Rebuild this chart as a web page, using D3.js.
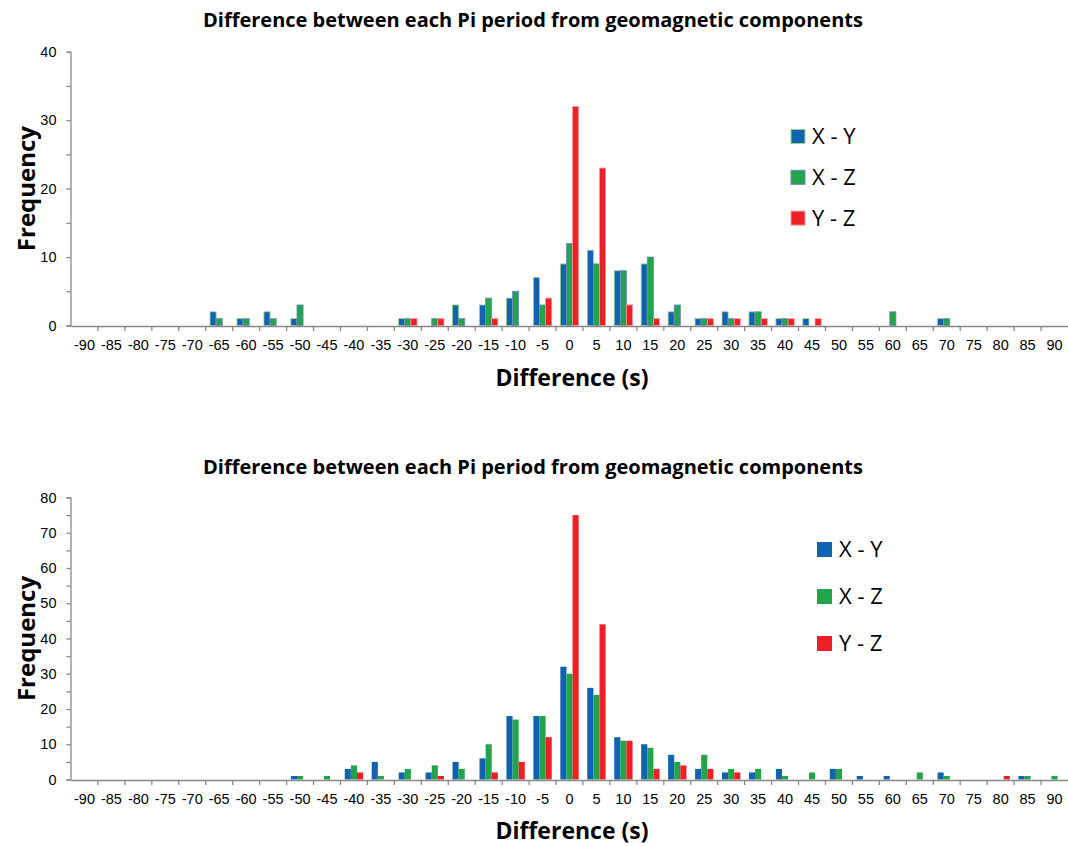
<!DOCTYPE html>
<html>
<head>
<meta charset="utf-8">
<script src="https://cdn.jsdelivr.net/npm/d3@7"></script>
<style>
  body { margin: 0; background: #fff; }
  svg { display: block; font-family: 'Open Sans', sans-serif; }
</style>
</head>
<body>
<svg id="chart" width="1068" height="846"></svg>
<script>
let categories = [-90, -85, -80, -75, -70, -65, -60, -55, -50, -45, -40, -35, -30, -25, -20, -15, -10, -5,
  0, 5, 10, 15, 20, 25, 30, 35, 40, 45, 50, 55, 60, 65, 70, 75, 80, 85, 90]
let seriesNames = ['X - Y', 'X - Z', 'Y - Z']
let colors = ['#1162b0', '#22a54a', '#ee2026']
let topOutlines = ['#9ad38c', '#6f84c8', '#f59a9a']

let titleText = 'Difference between each Pi period from geomagnetic components'
let xTitle = 'Difference (s)'
let yTitle = 'Frequency'

// upper histogram
let topXY = [0, 0, 0, 0, 0, 2, 1, 2, 1, 0, 0, 0, 1, 0, 3, 3, 4, 7, 9, 11, 8, 9, 2, 1, 2, 2, 1, 1, 0, 0, 0, 0, 1, 0, 0, 0, 0]
let topXZ = [0, 0, 0, 0, 0, 1, 1, 1, 3, 0, 0, 0, 1, 1, 1, 4, 5, 3, 12, 9, 8, 10, 3, 1, 1, 2, 1, 0, 0, 0, 2, 0, 1, 0, 0, 0, 0]
let topYZ = [0, 0, 0, 0, 0, 0, 0, 0, 0, 0, 0, 0, 1, 1, 0, 1, 0, 4, 32, 23, 3, 1, 0, 1, 1, 1, 1, 1, 0, 0, 0, 0, 0, 0, 0, 0, 0]
let topYTicks = [0, 10, 20, 30, 40]

// lower histogram
let bottomXY = [0, 0, 0, 0, 0, 0, 0, 0, 1, 0, 3, 5, 2, 2, 5, 6, 18, 18, 32, 26, 12, 10, 7, 3, 2, 2, 3, 0, 3, 1, 1, 0, 2, 0, 0, 1, 0]
let bottomXZ = [0, 0, 0, 0, 0, 0, 0, 0, 1, 1, 4, 1, 3, 4, 3, 10, 17, 18, 30, 24, 11, 9, 5, 7, 3, 3, 1, 2, 3, 0, 0, 2, 1, 0, 0, 1, 1]
let bottomYZ = [0, 0, 0, 0, 0, 0, 0, 0, 0, 0, 2, 0, 0, 1, 0, 2, 5, 12, 75, 44, 11, 3, 4, 3, 2, 0, 0, 0, 0, 0, 0, 0, 0, 0, 1, 0, 0]
let bottomYTicks = [0, 10, 20, 30, 40, 50, 60, 70, 80]

let axisColor = '#888'

let drawPanel = (svg, p) => {
  let g = svg.append('g')

  let x = d3.scaleBand()
    .domain(categories)
    .range([71, 1068])
    .padding(0)

  let inner = d3.scaleBand()
    .domain(seriesNames)
    .range([x.bandwidth() * 0.16, x.bandwidth() * 0.84])

  let yMax = p.yTicks[p.yTicks.length - 1]
  let y = d3.scaleLinear()
    .domain([0, yMax])
    .range([p.y0, p.y1])

  // bars
  let series = p.series.map((values, s) => values.map((v, i) => ({ cat: categories[i], v: v, s: s })))
  series.forEach((data, s) => {
    g.selectAll('rect.s' + s)
      .data(data.filter(d => d.v > 0))
      .enter().append('rect')
      .attr('class', 's' + s)
      .attr('x', d => x(d.cat) + inner(seriesNames[s]))
      .attr('width', inner.bandwidth())
      .attr('y', d => y(d.v))
      .attr('height', d => y(0) - y(d.v))
      .attr('fill', colors[s])
      .attr('stroke', p.outlines ? p.outlines[s] : 'none')
      .attr('stroke-width', 0.8)
  })

  // y axis, major and minor ticks
  let minor = d3.range(0, yMax + 1, 5)
  let yAxis = g.append('g')
    .attr('transform', 'translate(70.5,0)')
    .call(d3.axisLeft(y).tickValues(minor).tickSize(4).tickPadding(10)
      .tickFormat(d => p.yTicks.includes(d) ? d : ''))
  yAxis.select('.domain').attr('stroke', axisColor).attr('stroke-width', 1.3)
  yAxis.selectAll('.tick line').attr('stroke', axisColor).attr('stroke-width', 1.3)
  yAxis.selectAll('.tick text')
    .attr('font-size', 14.5)
    .attr('fill', '#000')

  // x axis: labels under each bin, ticks between bins
  let xAxis = g.append('g')
    .attr('transform', 'translate(0,' + (y(0) + 0.5) + ')')
    .call(d3.axisBottom(x).tickSize(0).tickPadding(14))
  xAxis.select('.domain').attr('stroke', axisColor).attr('stroke-width', 1.6)
  xAxis.selectAll('.tick text')
    .attr('font-size', 14.5)
    .attr('fill', '#000')
  xAxis.selectAll('line.sep')
    .data(categories.slice(1))
    .enter().append('line')
    .attr('class', 'sep')
    .attr('x1', d => x(d))
    .attr('x2', d => x(d))
    .attr('y1', 0)
    .attr('y2', 5)
    .attr('stroke', axisColor)
    .attr('stroke-width', 1.3)

  // titles
  g.append('text')
    .attr('x', 533)
    .attr('y', p.titleY)
    .attr('text-anchor', 'middle')
    .attr('font-size', 20)
    .attr('font-weight', 'bold')
    .text(titleText)
  g.append('text')
    .attr('x', 572)
    .attr('y', p.xTitleY)
    .attr('text-anchor', 'middle')
    .attr('font-size', 23)
    .attr('font-weight', 'bold')
    .text(xTitle)
  g.append('text')
    .attr('text-anchor', 'middle')
    .attr('transform', 'translate(35,' + ((p.y0 + p.y1) / 2) + ')rotate(-90)')
    .attr('font-size', 24)
    .attr('font-weight', 'bold')
    .text(yTitle)

  // legend
  let legend = g.selectAll('g.legend')
    .data(seriesNames)
    .enter().append('g')
    .attr('class', 'legend')
    .attr('transform', (d, i) => 'translate(' + p.legendX + ',' + (p.legendY + i * p.legendGap) + ')')
  legend.append('rect')
    .attr('x', 0)
    .attr('y', -p.box / 2)
    .attr('width', p.box)
    .attr('height', p.box)
    .attr('fill', (d, i) => colors[i])
    .attr('stroke', (d, i) => p.outlines ? p.outlines[i] : 'none')
  legend.append('text')
    .attr('x', p.box + 7)
    .attr('y', 0)
    .attr('dy', '0.35em')
    .attr('font-size', 22)
    .text(d => d)
}

let svg = d3.select('#chart')

drawPanel(svg, {
  series: [topXY, topXZ, topYZ],
  outlines: topOutlines,
  yTicks: topYTicks,
  y0: 325.5, y1: 51.7,
  titleY: 27, xTitleY: 386,
  legendX: 791, legendY: 136.5, legendGap: 40.8, box: 14
})

drawPanel(svg, {
  series: [bottomXY, bottomXZ, bottomYZ],
  yTicks: bottomYTicks,
  y0: 779.5, y1: 497.5,
  titleY: 474, xTitleY: 839,
  legendX: 817, legendY: 549.5, legendGap: 47, box: 15
})
</script>
</body>
</html>
